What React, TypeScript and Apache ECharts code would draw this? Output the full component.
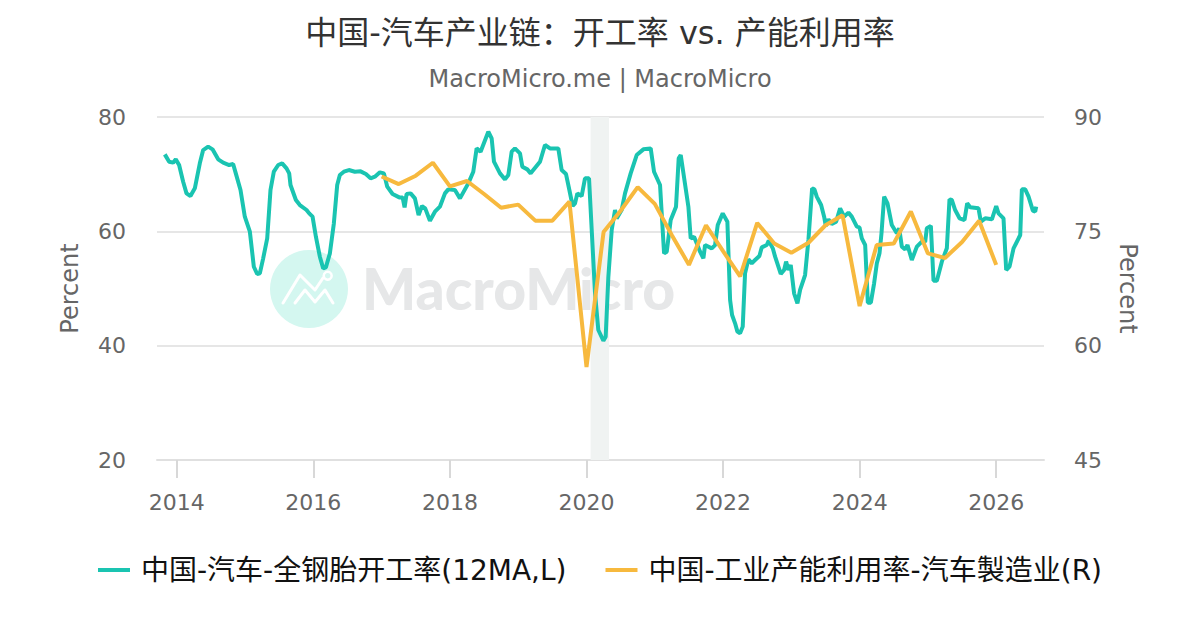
import React, { useEffect, useRef } from "react";
import * as echarts from "echarts";

const TITLE = "中国-汽车产业链：开工率 vs. 产能利用率";
const SUBTITLE = "MacroMicro.me | MacroMicro";
const TIRE_NAME = "中国-汽车-全钢胎开工率(12MA,L)";
const AUTO_NAME = "中国-工业产能利用率-汽车製造业(R)";
const YEAR_TICKS = [2014, 2016, 2018, 2020, 2022, 2024, 2026];
const RECESSION = [2020.06, 2020.33];

const tireYears = [
  2013.824, 2013.888, 2013.946, 2013.985, 2014.034, 2014.093, 2014.142, 2014.2, 2014.264, 2014.337,
  2014.386, 2014.459, 2014.523, 2014.606, 2014.679, 2014.767, 2014.825, 2014.864, 2014.933, 2014.996,
  2015.07, 2015.128, 2015.177, 2015.216, 2015.265, 2015.324, 2015.372, 2015.421, 2015.485, 2015.543,
  2015.607, 2015.646, 2015.665, 2015.744, 2015.802, 2015.9, 2015.939, 2015.988, 2016.037, 2016.095,
  2016.144, 2016.183, 2016.242, 2016.3, 2016.349, 2016.388, 2016.447, 2016.52, 2016.608, 2016.691,
  2016.769, 2016.838, 2016.901, 2016.974, 2017.033, 2017.082, 2017.16, 2017.258, 2017.307, 2017.336,
  2017.365, 2017.424, 2017.487, 2017.541, 2017.59, 2017.638, 2017.707, 2017.78, 2017.853, 2017.927,
  2017.976, 2018.073, 2018.147, 2018.269, 2018.342, 2018.391, 2018.449, 2018.562, 2018.611, 2018.645,
  2018.733, 2018.806, 2018.855, 2018.904, 2018.952, 2019.026, 2019.06, 2019.133, 2019.182, 2019.319,
  2019.392, 2019.465, 2019.587, 2019.636, 2019.7, 2019.749, 2019.797, 2019.832, 2019.866, 2019.929,
  2019.978, 2020.037, 2020.061, 2020.125, 2020.173, 2020.247, 2020.281, 2020.32, 2020.369, 2020.418,
  2020.442, 2020.515, 2020.564, 2020.647, 2020.735, 2020.833, 2020.94, 2020.989, 2021.077, 2021.136,
  2021.175, 2021.233, 2021.311, 2021.35, 2021.38, 2021.492, 2021.526, 2021.575, 2021.614, 2021.663,
  2021.712, 2021.736, 2021.834, 2021.883, 2021.922, 2021.995, 2022.063, 2022.103, 2022.132, 2022.176,
  2022.21, 2022.249, 2022.288, 2022.322, 2022.371, 2022.42, 2022.469, 2022.532, 2022.567, 2022.64,
  2022.669, 2022.728, 2022.762, 2022.845, 2022.894, 2022.923, 2022.957, 2022.991, 2023.04, 2023.089,
  2023.128, 2023.201, 2023.25, 2023.304, 2023.338, 2023.372, 2023.436, 2023.48, 2023.504, 2023.543,
  2023.592, 2023.656, 2023.714, 2023.773, 2023.836, 2023.885, 2023.959, 2023.998, 2024.032, 2024.081,
  2024.12, 2024.164, 2024.212, 2024.252, 2024.291, 2024.32, 2024.359, 2024.408, 2024.471, 2024.545,
  2024.579, 2024.618, 2024.667, 2024.701, 2024.764, 2024.838, 2024.911, 2024.96, 2024.984, 2025.043,
  2025.082, 2025.131, 2025.204, 2025.277, 2025.316, 2025.35, 2025.399, 2025.463, 2025.536, 2025.575,
  2025.619, 2025.741, 2025.775, 2025.839, 2025.937, 2026.0, 2026.034, 2026.107, 2026.146, 2026.195,
  2026.254, 2026.352, 2026.376, 2026.425, 2026.474, 2026.537, 2026.571, 2026.586,
];

const tireValues = [
  73.46, 72.18, 72.01, 72.59, 71.6, 68.68, 66.64, 66.18, 67.52, 71.89,
  74.22, 74.81, 74.34, 72.59, 72.01, 71.6, 71.77, 70.14, 67.23, 62.56,
  59.94, 53.81, 52.53, 52.65, 55.27, 58.77, 67.23, 70.43, 71.6, 71.89,
  71.02, 70.14, 68.1, 65.48, 64.6, 63.73, 63.14, 62.56, 59.06, 55.56,
  53.52, 53.7, 56.15, 61.39, 68.1, 69.85, 70.43, 70.72, 70.43, 70.49,
  70.02, 69.27, 69.56, 70.32, 70.14, 67.81, 66.53, 65.94, 65.94, 64.19,
  66.53, 66.64, 65.77, 62.85, 64.43, 64.02, 61.86, 63.44, 64.31, 66.64,
  67.34, 67.23, 65.77, 68.39, 70.43, 74.51, 73.93, 77.43, 76.26, 72.18,
  70.14, 69.09, 69.85, 73.93, 74.51, 73.64, 71.31, 70.84, 70.14, 72.18,
  75.1, 74.51, 74.51, 70.72, 70.02, 67.23, 64.43, 64.89, 66.64, 66.18,
  69.27, 69.27, 63.73, 49.15, 42.74, 40.87, 41.57, 52.05, 60.23, 63.73,
  62.27, 63.73, 66.64, 70.14, 73.35, 74.34, 74.51, 70.43, 68.1, 56.15,
  56.44, 61.98, 64.31, 72.77, 73.35, 64.31, 58.77, 59.06, 57.9, 56.44,
  55.27, 57.6, 57.02, 57.6, 61.1, 63.14, 61.69, 47.99, 45.37, 43.91,
  42.45, 42.16, 43.33, 52.66, 55.1, 54.4, 54.99, 55.69, 57.2, 57.61,
  58.37, 57.03, 55.57, 52.54, 53.24, 54.7, 53.24, 54.11, 49.16, 47.41,
  49.74, 52.36, 58.49, 67.52, 67.35, 66.07, 64.61, 62.57, 60.94, 62.1,
  61.29, 61.69, 64.03, 62.57, 63.27, 62.57, 60.82, 60.7, 58.78, 57.61,
  47.52, 47.52, 50.91, 54.4, 56.15, 59.65, 66.07, 64.9, 61.11, 59.65,
  60.53, 57.32, 56.85, 57.61, 54.99, 57.32, 58.19, 58.19, 60.53, 60.94,
  51.37, 51.37, 54.7, 57.03, 65.6, 65.48, 63.73, 62.28, 61.98, 64.9,
  64.2, 64.03, 61.69, 62.28, 62.1, 64.43, 63.15, 62.28, 53.24, 53.82,
  57.03, 59.36, 67.35, 67.35, 66.07, 63.62, 63.44, 64.32,
];

// quarterly, starting 2017-01
const autoValues = [
  82.2, 81.2, 82.3, 84.0, 80.9, 81.6, 79.9, 78.1, 78.5, 76.4, 76.4, 78.9, 57.2,
  74.9, 77.7, 80.8, 78.6, 74.5, 70.6, 75.8, 72.4, 69.1, 76.1, 73.4, 72.2, 73.5,
  75.8, 77.1, 65.2, 73.2, 73.4, 77.6, 72.1, 71.5, 73.6, 76.4, 70.6,
];

const FONT = '"DejaVu Sans", "Noto Sans CJK SC", sans-serif';

export default function App() {
  const ref = useRef<HTMLDivElement>(null);
  useEffect(() => {
    const chart = echarts.init(ref.current!, null, { renderer: "svg" });
    chart.setOption({
      animation: false,
      backgroundColor: "#fff",
      title: [
        { text: TITLE, left: "center", top: 12, textStyle: { fontFamily: FONT, fontSize: 32, fontWeight: "normal", color: "#333" } },
        { text: SUBTITLE, left: "center", top: 62, textStyle: { fontFamily: FONT, fontSize: 24, fontWeight: "normal", color: "#666" } },
      ],
      legend: {
        top: 551,
        left: "center",
        itemWidth: 32,
        itemHeight: 4,
        itemGap: 39,
        icon: "rect",
        textStyle: { fontFamily: FONT, fontSize: 28, color: "#111", padding: [0, 0, 0, 6] },
        data: [TIRE_NAME, AUTO_NAME],
      },
      grid: { left: 157, right: 156, top: 117, bottom: 170 },
      xAxis: {
        type: "value",
        min: 2013.71,
        max: 2026.7,
        axisLine: { onZero: false, lineStyle: { color: "#e0e0e0", width: 2 } },
        axisTick: { show: true, length: 18, lineStyle: { color: "#d8d8d8", width: 2 }, customValues: YEAR_TICKS },
        axisLabel: {
          customValues: YEAR_TICKS,
          formatter: (v: number) => String(v),
          fontFamily: FONT,
          fontSize: 22,
          color: "#666",
          margin: 31,
        },
        splitLine: { show: false },
      },
      yAxis: [
        {
          type: "value", min: 20, max: 80, interval: 20, name: "Percent", nameLocation: "middle", nameGap: 75,
          nameTextStyle: { fontFamily: FONT, fontSize: 24, color: "#666" },
          axisLabel: { fontFamily: FONT, fontSize: 22, color: "#666", margin: 31 },
          axisLine: { show: false }, axisTick: { show: false },
          splitLine: { lineStyle: { color: "#e6e6e6", width: 2 } },
        },
        {
          type: "value", min: 45, max: 90, interval: 15, name: "Percent", nameLocation: "middle", nameGap: 72, nameRotate: -90,
          nameTextStyle: { fontFamily: FONT, fontSize: 24, color: "#666" },
          axisLabel: { fontFamily: FONT, fontSize: 22, color: "#666", margin: 30 },
          axisLine: { show: false }, axisTick: { show: false },
          splitLine: { show: false },
        },
      ],
      graphic: [
        { type: "circle", silent: true, z: 0, shape: { cx: 309, cy: 289, r: 39 }, style: { fill: "#d4f7f0" } },
        { type: "polyline", silent: true, z: 0, shape: { points: [[283, 303], [300, 275], [315, 290], [323, 278]] }, style: { stroke: "#fff", lineWidth: 3, fill: "none", lineCap: "round", lineJoin: "round" } },
        { type: "polyline", silent: true, z: 0, shape: { points: [[295, 303], [305, 290], [315, 302], [325, 290], [333, 303]] }, style: { stroke: "#fff", lineWidth: 3, fill: "none", lineCap: "round", lineJoin: "round" } },
        { type: "circle", silent: true, z: 0, shape: { cx: 327.7, cy: 275.7, r: 4 }, style: { fill: "#d4f7f0", stroke: "#fff", lineWidth: 2.5 } },
        { type: "text", silent: true, z: 0, x: 362, y: 259, style: { text: "MacroMicro", fontFamily: "Lato, sans-serif", fontWeight: 900, fontSize: 57, fill: "#e6e7e8" } },
      ],
      series: [
        {
          name: TIRE_NAME, type: "line", yAxisIndex: 0, showSymbol: false, smooth: false,
          lineStyle: { color: "#1ac4b1", width: 4 }, itemStyle: { color: "#1ac4b1" },
          data: tireValues.map((v, i) => [tireYears[i], v]),
          markArea: { silent: true, itemStyle: { color: "#f0f3f2" }, data: [[{ xAxis: RECESSION[0] }, { xAxis: RECESSION[1] }]] },
        },
        {
          name: AUTO_NAME, type: "line", yAxisIndex: 1, showSymbol: false, smooth: false,
          lineStyle: { color: "#f7b93e", width: 4 }, itemStyle: { color: "#f7b93e" },
          data: autoValues.map((v, i) => [2017 + (i * 3) / 12, v]),
        },
      ],
    });
    return () => chart.dispose();
  }, []);
  return <div ref={ref} style={{ width: 1200, height: 630, position: "absolute", left: 0, top: 0 }} />;
}
